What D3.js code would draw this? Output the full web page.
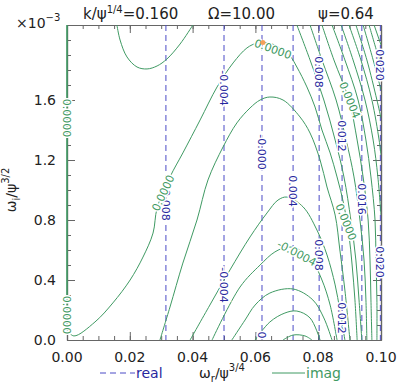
<!DOCTYPE html>
<html><head><meta charset="utf-8">
<script src="https://cdn.jsdelivr.net/npm/d3@7/dist/d3.min.js"></script>
<style>
body{margin:0;background:#fff}
svg{display:block}
text{font-family:"DejaVu Sans",sans-serif}
</style>
</head><body>
<svg id="c" width="399" height="389"></svg>
<script>
// ---------- data ----------
const xTickLabels = [0.00, 0.02, 0.04, 0.06, 0.08, 0.10];
const yTickLabels = [0.0, 0.4, 0.8, 1.2, 1.6];
const xDomain = [0, 0.1];
const yDomain = [0, 2.1];   // units of 1e-3

// real part contours (vertical dashed)
const realLevels = [-0.008, -0.004, 0.000, 0.004, 0.008, 0.012, 0.016, 0.020];
const realX      = [0.0315, 0.0500, 0.0621, 0.0720, 0.0803, 0.0876, 0.0939, 0.0998];
// [level index, y position, label]
const realLabels = [
  [0, 0.913, "-0.008"],
  [1, 1.680, "-0.004"], [1, 0.367, "-0.004"],
  [2, 1.253, "-0.000"], [2, 0.033, "0"],
  [3, 0.993, "0.004"],
  [4, 1.787, "0.008"], [4, 0.567, "0.008"],
  [5, 1.360, "0.012"], [5, 0.147, "0.012"],
  [6, 0.940, "0.016"],
  [7, 1.833, "0.020"], [7, 0.520, "0.020"]
];

// imaginary part contours, points [omega_r, omega_i]
const imagZeroEdge = [[0, 2.1], [0, 0.067]];
const imagZero = [[0, 0.067],[0.0022,0.027],[0.0089,0.12],[0.0146,0.247],[0.0201,0.40],[0.0242,0.553],
  [0.0274,0.713],[0.0287,0.88],[0.0328,1.087],[0.0369,1.247],[0.0424,1.467],[0.0478,1.687],
  [0.0529,1.847],[0.0573,1.947],[0.0605,1.98],[0.0624,1.983],[0.0662,1.967],[0.0710,1.893],
  [0.0732,1.82],[0.0764,1.687],[0.0790,1.553],[0.0812,1.40],[0.0838,1.247],[0.0860,1.087],
  [0.0882,0.90],[0.0898,0.70],[0.0908,0.50],[0.0917,0.267],[0.0924,0]];
const imagBowl = [[0.0159,2.1],[0.0169,2.0],[0.0191,1.887],[0.0223,1.82],[0.0255,1.807],
  [0.0287,1.827],[0.0318,1.873],[0.0360,1.973],[0.0401,2.1]];
const imagArchB = [[0.0296,0],[0.0328,0.22],[0.0369,0.513],[0.0414,0.80],[0.0449,1.067],[0.0497,1.287],
  [0.0541,1.447],[0.0583,1.547],[0.0615,1.60],[0.0646,1.62],[0.0688,1.60],[0.0742,1.487],
  [0.0774,1.38],[0.0806,1.20],[0.0828,1.02],[0.0854,0.833],[0.0869,0.60],[0.0885,0.333],[0.0901,0]];
const imagArchC = [[0.0392,0],[0.0455,0.233],[0.0519,0.467],[0.0583,0.687],[0.0637,0.847],[0.0672,0.933],
  [0.0701,0.953],[0.0752,0.887],[0.0796,0.733],[0.0828,0.567],[0.0854,0.367],[0.0869,0.20],[0.0885,0]];
const imagArchD = [[0.0462,0],[0.0551,0.353],[0.0615,0.50],[0.0662,0.587],[0.0704,0.62],[0.0742,0.60],
  [0.0783,0.52],[0.0812,0.40],[0.0838,0.233],[0.0860,0]];
const imagArchE = [[0.0525,0],[0.0567,0.133],[0.0599,0.233],[0.0646,0.313],[0.0720,0.34],[0.0783,0.267],
  [0.0818,0.147],[0.0844,0]];
const imagArchE2 = [[0.0599,0],[0.0646,0.12],[0.0694,0.18],[0.0732,0.193],[0.0774,0.147],[0.0806,0]];
const imagArchF = [[0.0688,0],[0.0720,0.033],[0.0758,0.027],[0.0780,0]];
const imagPos1 = [[0.0732,2.1],[0.0774,1.867],[0.0818,1.6],[0.0854,1.333],[0.0882,1.087],[0.0904,0.80],[0.0920,0.533],[0.0930,0.267],[0.0939,0]];
const imagPos2 = [[0.0774,2.1],[0.0812,1.867],[0.0857,1.6],[0.0889,1.333],[0.0914,1.087],[0.0933,0.80],[0.0946,0.533],[0.0952,0.267],[0.0955,0]];
const imagPos3 = [[0.0812,2.1],[0.0850,1.867],[0.0898,1.6],[0.0924,1.333],[0.0943,1.087],[0.0959,0.80],[0.0965,0.533],[0.0968,0.267],[0.0971,0]];
const imagPos4 = [[0.0844,2.1],[0.0885,1.867],[0.0927,1.6],[0.0952,1.333],[0.0968,1.087],[0.0981,0.80],[0.0984,0.533],[0.0987,0.267],[0.0987,0]];
const imagPos5 = [[0.0873,2.1],[0.0911,1.867],[0.0949,1.6],[0.0975,1.333],[0.0990,1.087],[0.1,0.833]];
const imagPos6 = [[0.0898,2.1],[0.0936,1.867],[0.0971,1.6],[0.0994,1.333],[0.1,1.233]];
const imagPos7 = [[0.0920,2.1],[0.0955,1.867],[0.0987,1.6],[0.1,1.48]];
const imagPos8 = [[0.0943,2.1],[0.0975,1.867],[0.1,1.667]];
const imagPos9 = [[0.0962,2.1],[0.0990,1.90],[0.1,1.833]];
const imagPos10 = [[0.0978,2.1],[0.1,1.967]];
// [x, y, text, angle]
const imagLabels = [
  [0, 1.48, "0.0000", 90],
  [0, 0.167, "0.0000", 90],
  [0.0306, 0.98, "0.0000", -65],
  [0.0656, 1.94, "0.0000", 20],
  [0.0889, 0.787, "0.0000", 68],
  [0.0901, 1.60, "0.0004", 68],
  [0.0732, 0.58, "-0.0004", 28]
];
const growthMax = [0.0624, 1.983];

// ---------- drawing ----------
const svg = d3.select("#c");
const L = 67, R = 381, T = 25, B = 340;
const x = d3.scaleLinear().domain(xDomain).range([L, R]);
const y = d3.scaleLinear().domain(yDomain).range([B, T]);
const green = "#3f9a63", blue = "#4b4bc6", blueText = "#27279e", axisCol = "#666";

const clip = svg.append("clipPath").attr("id","pc").append("rect")
  .attr("x", L).attr("y", T).attr("width", R-L).attr("height", B-T);

// axes (ticks inward)
const minorX = d3.range(0, 0.1001, 0.005);
const minorY = d3.range(0, 2.1001, 0.1);
function addAxis(gen, tr){
  const g = svg.append("g").attr("transform", tr).call(gen);
  g.selectAll("path").attr("stroke", axisCol).attr("stroke-width", 1.2);
  g.selectAll("line").attr("stroke", axisCol);
  g.selectAll("text").remove();
  return g;
}
addAxis(d3.axisBottom(x).tickValues(minorX).tickSizeInner(-4).tickSizeOuter(0), `translate(0,${B})`);
addAxis(d3.axisBottom(x).tickValues(xTickLabels).tickSizeInner(-8).tickSizeOuter(0), `translate(0,${B})`);
addAxis(d3.axisTop(x).tickValues(minorX).tickSizeInner(-4).tickSizeOuter(0), `translate(0,${T})`);
addAxis(d3.axisTop(x).tickValues(xTickLabels).tickSizeInner(-8).tickSizeOuter(0), `translate(0,${T})`);
addAxis(d3.axisLeft(y).tickValues(minorY).tickSizeInner(-4).tickSizeOuter(0), `translate(${L},0)`);
addAxis(d3.axisLeft(y).tickValues(yTickLabels).tickSizeInner(-8).tickSizeOuter(0), `translate(${L},0)`);
addAxis(d3.axisRight(y).tickValues(minorY).tickSizeInner(-4).tickSizeOuter(0), `translate(${R},0)`);
addAxis(d3.axisRight(y).tickValues(yTickLabels).tickSizeInner(-8).tickSizeOuter(0), `translate(${R},0)`);

// tick labels
svg.append("g").selectAll("text").data(xTickLabels).join("text")
  .attr("x", d => x(d)).attr("y", 362).attr("text-anchor", "middle")
  .attr("font-size", 14).attr("fill", "#222").text(d => d.toFixed(2));
svg.append("g").selectAll("text").data(yTickLabels).join("text")
  .attr("x", 56).attr("y", d => y(d) + 5).attr("text-anchor", "end")
  .attr("font-size", 14).attr("fill", "#222").text(d => d.toFixed(1));

const plot = svg.append("g").attr("clip-path", "url(#pc)");

// real contours
plot.append("g").selectAll("line").data(realX).join("line")
  .attr("x1", d => x(d)).attr("x2", d => x(d)).attr("y1", y(yDomain[1])).attr("y2", y(0))
  .attr("stroke", blue).attr("stroke-width", 1).attr("stroke-dasharray", "6,4");

// imag contours
const line = d3.line().x(d => x(d[0])).y(d => y(d[1])).curve(d3.curveCatmullRom.alpha(0.5));
const imagCurves = [imagBowl, imagArchB, imagArchC, imagArchD, imagArchE, imagArchE2, imagArchF,
  imagPos1, imagPos2, imagPos3, imagPos4, imagPos5, imagPos6, imagPos7, imagPos8, imagPos9, imagPos10, imagZero];
plot.append("g").selectAll("path").data(imagCurves).join("path")
  .attr("d", line).attr("fill", "none").attr("stroke", green).attr("stroke-width", 1);
svg.append("path").datum(imagZeroEdge).attr("d", d3.line().x(d => x(d[0])).y(d => y(d[1])))
  .attr("stroke", green).attr("stroke-width", 1.6);

// labels
function lab(g, px, py, t, ang, col){
  g.append("text").attr("transform", `translate(${px},${py}) rotate(${ang})`)
    .attr("text-anchor", "middle").attr("dy", "0.36em")
    .attr("font-size", 11).attr("fill", col)
    .attr("stroke", "#fff").attr("stroke-width", 3).attr("paint-order", "stroke")
    .text(t);
}
const lg = svg.append("g");
realLabels.forEach(d => lab(lg, x(realX[d[0]]), y(d[1]), d[2], 90, blueText));
imagLabels.forEach(d => lab(lg, x(d[0]), y(d[1]), d[2], d[3], green));

svg.append("circle").attr("cx", x(growthMax[0])).attr("cy", y(growthMax[1])).attr("r", 2.5).attr("fill", "#f5a05a");

// title
svg.append("text").attr("x", 83).attr("y", 19).attr("font-size", 15).attr("fill", "#222")
  .html('k/ψ<tspan dy="-6" font-size="10">1/4</tspan><tspan dy="6">=0.160</tspan>');
svg.append("text").attr("x", 208).attr("y", 19).attr("font-size", 15).attr("fill", "#222").text("Ω=10.00");
svg.append("text").attr("x", 318).attr("y", 19).attr("font-size", 15).attr("fill", "#222").text("ψ=0.64");
svg.append("text").attr("x", 16).attr("y", 28).attr("font-size", 14).attr("fill", "#222")
  .html('×10<tspan dy="-7" font-size="10">−3</tspan>');

// axis titles
svg.append("text").attr("x", 222).attr("y", 378).attr("text-anchor", "middle").attr("font-size", 14).attr("fill", "#222")
  .html('ω<tspan dy="4" font-size="10">r</tspan><tspan dy="-4">/ψ</tspan><tspan dy="-7" font-size="10">3/4</tspan>');
svg.append("text").attr("transform", "translate(16,190) rotate(-90)").attr("text-anchor", "middle").attr("font-size", 14).attr("fill", "#222")
  .html('ω<tspan dy="4" font-size="10">i</tspan><tspan dy="-4">/ψ</tspan><tspan dy="-7" font-size="10">3/2</tspan>');

// legend
svg.append("line").attr("x1", 100).attr("x2", 135).attr("y1", 373).attr("y2", 373)
  .attr("stroke", blue).attr("stroke-dasharray", "6,4");
svg.append("text").attr("x", 136).attr("y", 378).attr("font-size", 14).attr("fill", blueText).text("real");
svg.append("line").attr("x1", 272).attr("x2", 305).attr("y1", 373).attr("y2", 373).attr("stroke", green);
svg.append("text").attr("x", 306).attr("y", 378).attr("font-size", 14).attr("fill", green).text("imag");
</script>
</body></html>
